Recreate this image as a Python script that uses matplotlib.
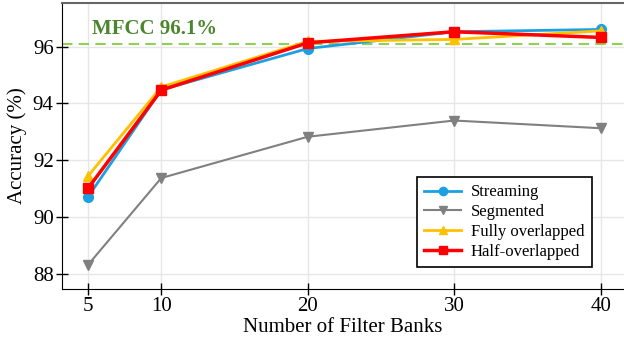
import matplotlib
matplotlib.use('Agg')
import matplotlib.pyplot as plt

plt.rcParams['font.family'] = ['Liberation Serif', 'DejaVu Serif']

filter_banks = [5, 10, 20, 30, 40]
streaming = [90.72, 94.48, 95.93, 96.52, 96.60]
segmented = [88.33, 91.38, 92.83, 93.40, 93.13]
fully_overlapped = [91.45, 94.58, 96.18, 96.25, 96.55]
half_overlapped = [91.02, 94.47, 96.13, 96.52, 96.32]
mfcc = 96.1

fig = plt.figure(figsize=(6.24, 3.39), dpi=100)
ax = fig.add_axes([62 / 624, 50 / 339, 1 - 62 / 624, 286 / 339])

ax.axhline(mfcc, color='#92d050', lw=1.5, ls=(0, (5, 3)), zorder=1)
ax.text(5.25, 96.62, 'MFCC 96.1%', color='#4a862c', fontsize=15, fontweight='bold',
        va='center', ha='left')

ax.plot(filter_banks, streaming, color='#1ba1e2', marker='o', ms=7, lw=2, label='Streaming', zorder=3)
ax.plot(filter_banks, segmented, color='#808080', marker='v', ms=7, lw=1.5, label='Segmented', zorder=3)
ax.plot(filter_banks, fully_overlapped, color='#ffc000', marker='^', ms=7, lw=2, label='Fully overlapped', zorder=3)
ax.plot(filter_banks, half_overlapped, color='#ff0000', marker='s', ms=7, lw=2.5, label='Half-overlapped', zorder=4)

ax.set_xlim(3.22, 41.6)
ax.set_ylim(87.48, 97.53)
ax.set_xticks(filter_banks)
ax.set_yticks([88, 90, 92, 94, 96])
ax.grid(True, color='#e6e6e6', lw=1)
ax.set_axisbelow(True)
ax.tick_params(direction='inout', length=8, width=1, labelsize=15, pad=2)
ax.spines['right'].set_visible(False)
ax.spines['top'].set_color('#666666')
ax.spines['top'].set_linewidth(1.5)

ax.set_xlabel('Number of Filter Banks', fontsize=15, labelpad=1)
ax.set_ylabel('Accuracy (%)', fontsize=15, labelpad=4)

leg = ax.legend(loc='lower right', bbox_to_anchor=((592 - 62) / 562, (289 - 267) / 286),
                fontsize=12, fancybox=False, edgecolor='black', framealpha=1,
                handlelength=2.2, borderpad=0.45, labelspacing=0.22, handletextpad=0.6,
                borderaxespad=0, markerscale=0.85)
leg.get_frame().set_linewidth(1.2)

fig.savefig('out.png', dpi=100)
